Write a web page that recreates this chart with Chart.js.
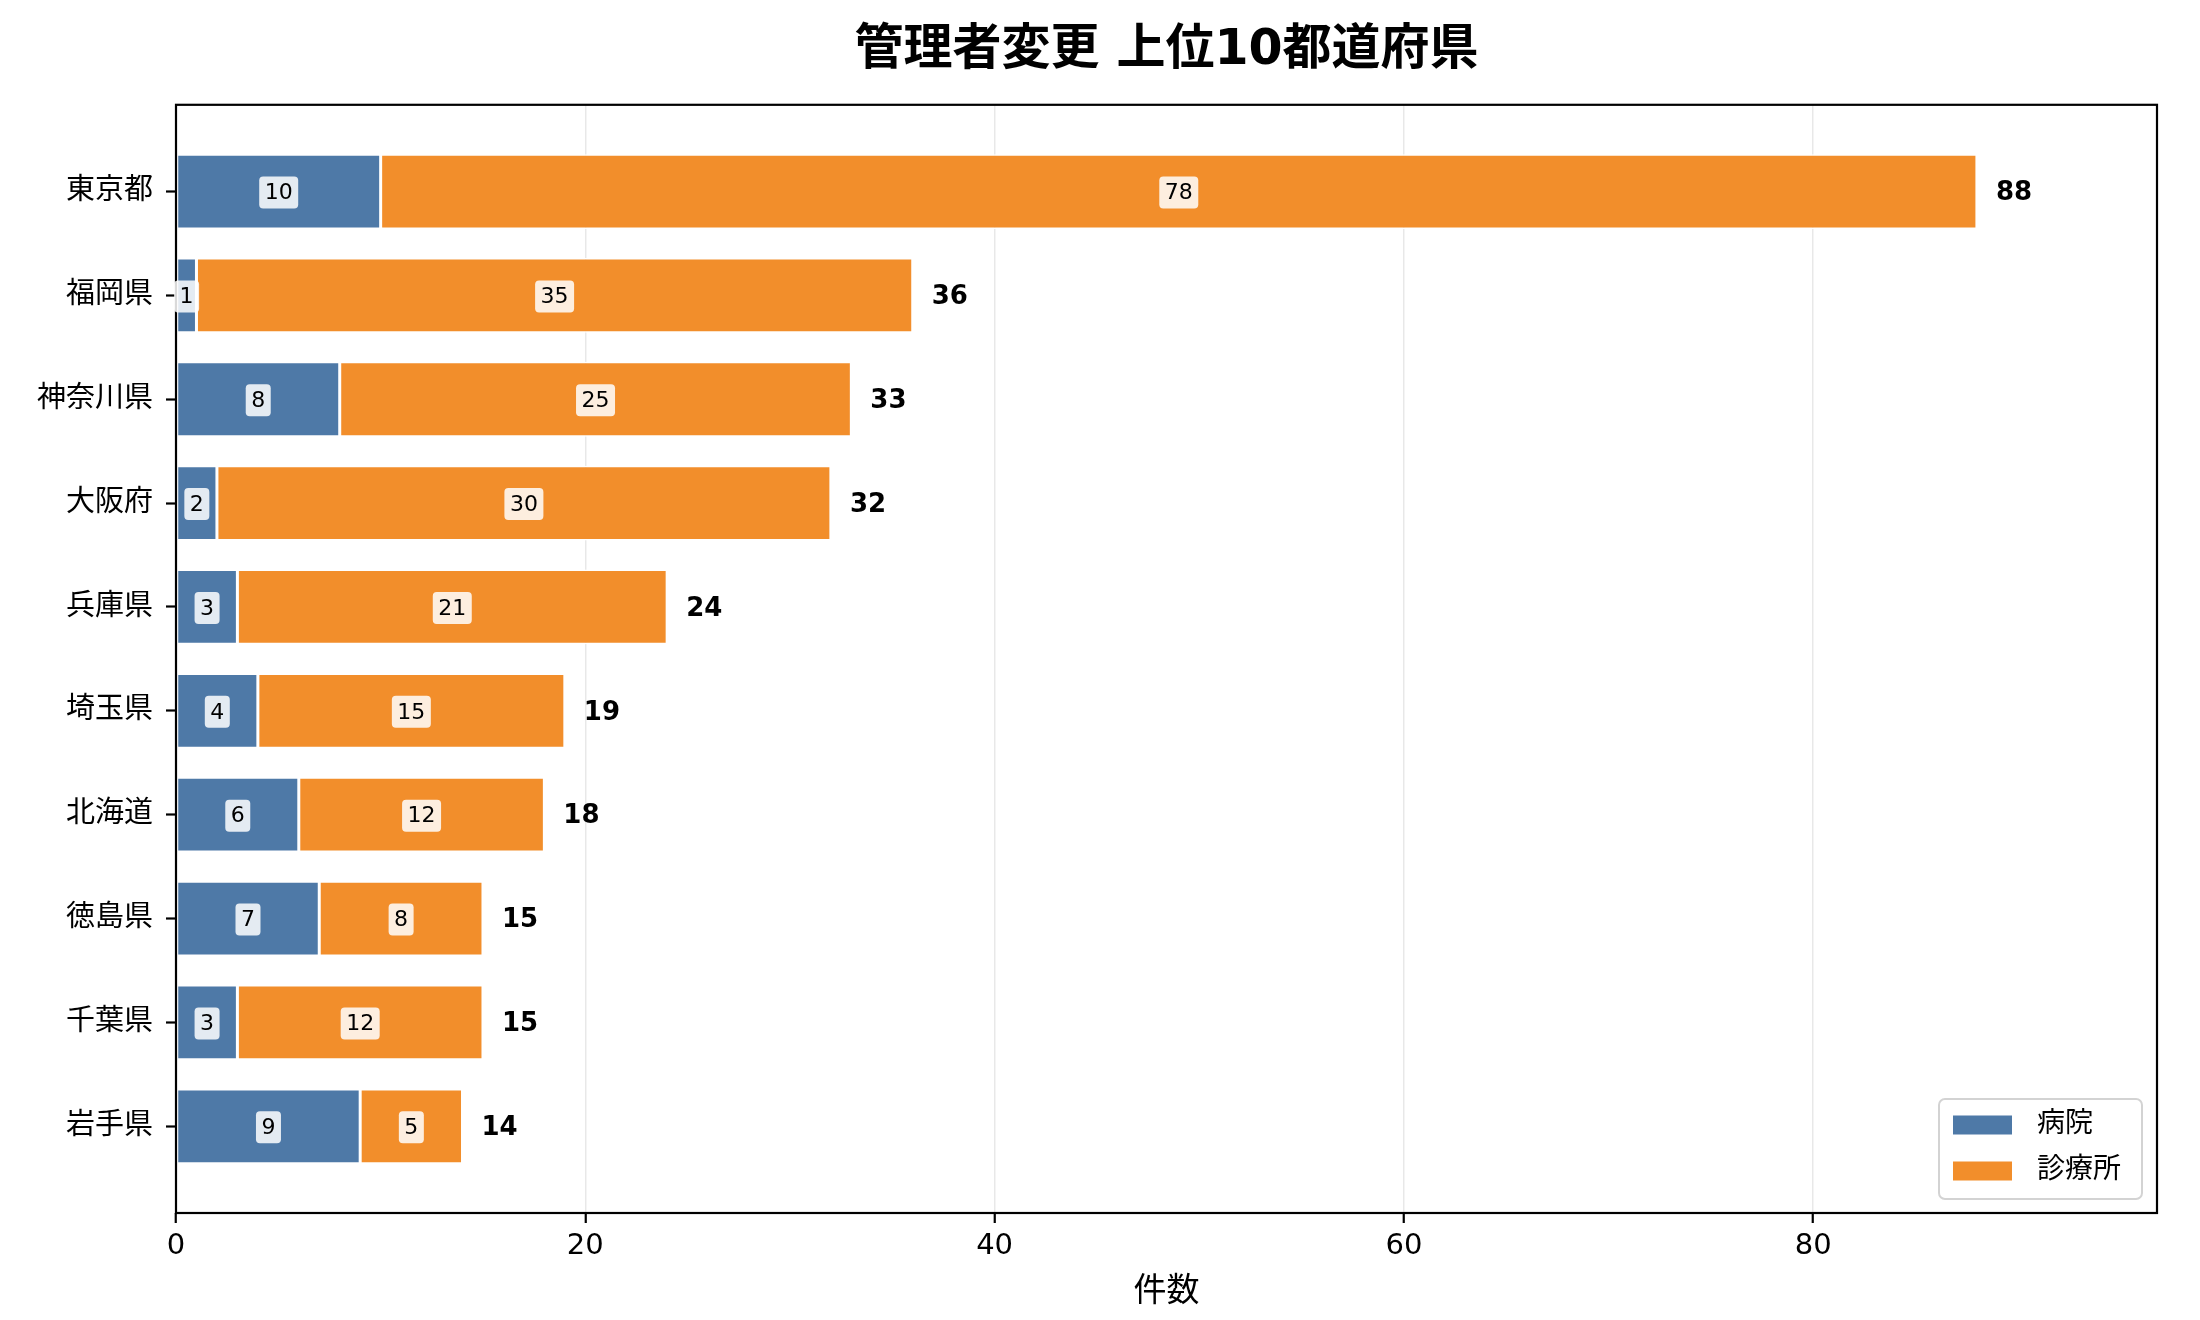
<!DOCTYPE html>
<html lang="ja">
<head>
    <meta charset="UTF-8">
    <title>管理者変更 上位10都道府県</title>
    <script src="https://cdn.jsdelivr.net/npm/chart.js"></script>
    <style>
        body, html {
            margin: 0;
            padding: 0;
            background-color: #fff;
        }
        #chart {
            display: block;
        }
    </style>
</head>
<body>
    <canvas id="chart" width="2200" height="1320"></canvas>

    <script>
        // データ
        var prefectures = ['東京都', '福岡県', '神奈川県', '大阪府', '兵庫県', '埼玉県', '北海道', '徳島県', '千葉県', '岩手県'];
        var hospitalCounts = [10, 1, 8, 2, 3, 4, 6, 7, 3, 9];
        var clinicCounts = [78, 35, 25, 30, 21, 15, 12, 8, 12, 5];
        var xTicks = [0, 20, 40, 60, 80];

        // 数字は DejaVu Sans、漢字は Noto Sans CJK JP にフォールバック
        var FONT = "'DejaVu Sans', 'Noto Sans CJK JP', sans-serif";
        var BLUE = '#4e79a7';
        var ORANGE = '#f28e2b';

        var totals = hospitalCounts.map(function(v, i) { return v + clinicCounts[i]; });
        var xMax = Math.max.apply(null, totals) * 1.1;

        function toPoints(arr) {
            return arr.map(function(v, i) { return { x: v, y: i }; });
        }

        // 枠線（四辺）と値ラベル
        var framePlugin = {
            id: 'frame',
            afterDatasetsDraw: function(chart) {
                var a = chart.chartArea;
                var ctx = chart.ctx;
                ctx.save();
                ctx.strokeStyle = '#000';
                ctx.lineWidth = 2.2;
                ctx.strokeRect(a.left, a.top, a.right - a.left, a.bottom - a.top);
                ctx.restore();

                // 各セグメントの値ラベル
                ctx.save();
                ctx.font = '22px ' + FONT;
                ctx.textAlign = 'center';
                ctx.textBaseline = 'middle';
                chart.data.datasets.forEach(function(ds, di) {
                    var meta = chart.getDatasetMeta(di);
                    meta.data.forEach(function(bar, i) {
                        var p = bar.getProps(['x', 'y', 'base'], true);
                        var cx = (p.x + p.base) / 2;
                        var text = String(ds.data[i].x);
                        var w = ctx.measureText(text).width + 11;
                        var h = 32;
                        ctx.fillStyle = 'rgba(255,255,255,0.85)';
                        ctx.beginPath();
                        ctx.roundRect(cx - w / 2, p.y - h / 2 + 1, w, h, 4);
                        ctx.fill();
                        ctx.fillStyle = '#000';
                        ctx.fillText(text, cx, p.y + 2);
                    });
                });

                // 合計ラベル
                ctx.font = 'bold 26px ' + FONT;
                ctx.textAlign = 'left';
                var lastMeta = chart.getDatasetMeta(chart.data.datasets.length - 1);
                lastMeta.data.forEach(function(bar, i) {
                    var p = bar.getProps(['x', 'y'], true);
                    ctx.fillText(String(totals[i]), p.x + 19, p.y + 2);
                });
                ctx.restore();
            }
        };

        // 右下の凡例
        var legendPlugin = {
            id: 'boxLegend',
            afterDraw: function(chart) {
                var a = chart.chartArea;
                var ctx = chart.ctx;
                var bw = 203, bh = 100;
                var bx = a.right - 15 - bw;
                var by = a.bottom - 14 - bh;
                ctx.save();
                ctx.fillStyle = 'rgba(255,255,255,0.8)';
                ctx.strokeStyle = '#d3d3d3';
                ctx.lineWidth = 2;
                ctx.beginPath();
                ctx.roundRect(bx, by, bw, bh, 6);
                ctx.fill();
                ctx.stroke();
                ctx.font = '28px ' + FONT;
                ctx.textBaseline = 'middle';
                ctx.textAlign = 'left';
                chart.data.datasets.forEach(function(ds, i) {
                    var cy = by + 26 + i * 46;
                    ctx.fillStyle = ds.backgroundColor;
                    ctx.fillRect(bx + 14, cy - 9.5, 59, 19);
                    ctx.fillStyle = '#000';
                    ctx.fillText(ds.label, bx + 98, cy);
                });
                ctx.restore();
            }
        };

        Chart.defaults.color = '#000';
        Chart.defaults.font.family = FONT;

        var ctx = document.getElementById('chart').getContext('2d');
        var chart = new Chart(ctx, {
            type: 'bar',
            data: {
                datasets: [
                    {
                        label: '病院',
                        data: toPoints(hospitalCounts),
                        backgroundColor: BLUE,
                        borderColor: '#fff',
                        borderWidth: 1.5,
                        borderSkipped: false
                    },
                    {
                        label: '診療所',
                        data: toPoints(clinicCounts),
                        backgroundColor: ORANGE,
                        borderColor: '#fff',
                        borderWidth: 1.5,
                        borderSkipped: false
                    }
                ]
            },
            options: {
                indexAxis: 'y',
                responsive: false,
                devicePixelRatio: 1,
                animation: false,
                categoryPercentage: 1,
                barPercentage: 0.72,
                layout: { padding: { left: 0, right: 43, top: 0, bottom: 0 } },
                plugins: {
                    legend: { display: false },
                    tooltip: { enabled: false },
                    title: {
                        display: true,
                        fullSize: false,
                        text: '管理者変更 上位10都道府県',
                        color: '#000',
                        font: { size: 49, weight: 'bold', family: FONT },
                        padding: { top: 22, bottom: 24 }
                    }
                },
                scales: {
                    x: {
                        type: 'linear',
                        stacked: true,
                        min: 0,
                        max: xMax,
                        afterFit: function(scale) { scale.height = 107; },
                        afterBuildTicks: function(scale) {
                            scale.ticks = xTicks.map(function(v) { return { value: v }; });
                        },
                        border: { display: false },
                        grid: {
                            color: 'rgba(0,0,0,0.09)',
                            lineWidth: 1.5,
                            drawTicks: true,
                            tickLength: 10,
                            tickColor: '#000',
                            tickWidth: 2.2
                        },
                        ticks: {
                            font: { size: 29, family: FONT },
                            color: '#000',
                            padding: 6,
                            maxRotation: 0
                        },
                        title: {
                            display: true,
                            text: '件数',
                            color: '#000',
                            font: { size: 33, family: FONT },
                            padding: { top: 0, bottom: 8 }
                        }
                    },
                    y: {
                        type: 'linear',
                        stacked: true,
                        reverse: true,
                        offset: false,
                        min: -0.835,
                        max: prefectures.length - 1 + 0.835,
                        afterFit: function(scale) { scale.width = 176; },
                        afterBuildTicks: function(scale) {
                            scale.ticks = prefectures.map(function(_, i) { return { value: i }; });
                        },
                        border: { display: false },
                        grid: {
                            offset: false,
                            drawOnChartArea: false,
                            drawTicks: true,
                            tickLength: 10,
                            tickColor: '#000',
                            tickWidth: 2.2
                        },
                        ticks: {
                            font: { size: 29, family: FONT },
                            color: '#000',
                            padding: 13,
                            callback: function(value) { return prefectures[value]; }
                        }
                    }
                }
            },
            plugins: [framePlugin, legendPlugin]
        });
    </script>
</body>
</html>
